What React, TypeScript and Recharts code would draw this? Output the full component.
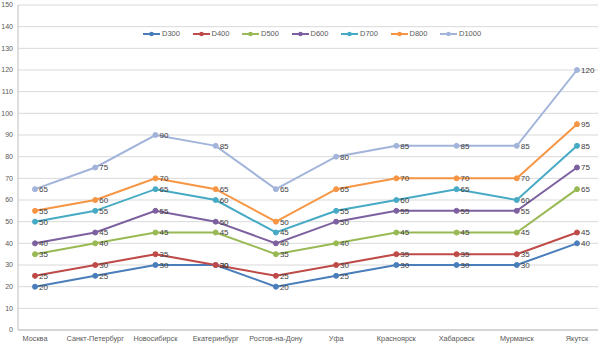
import React from "react";
import { LineChart, Line, XAxis, YAxis, CartesianGrid, Legend, LabelList } from "recharts";

const cities = ["Москва", "Санкт-Петербург", "Новосибирск", "Екатеринбург", "Ростов-на-Дону", "Уфа", "Красноярск", "Хабаровск", "Мурманск", "Якутск"];
const d300 = [20, 25, 30, 30, 20, 25, 30, 30, 30, 40];
const d400 = [25, 30, 35, 30, 25, 30, 35, 35, 35, 45];
const d500 = [35, 40, 45, 45, 35, 40, 45, 45, 45, 65];
const d600 = [40, 45, 55, 50, 40, 50, 55, 55, 55, 75];
const d700 = [50, 55, 65, 60, 45, 55, 60, 65, 60, 85];
const d800 = [55, 60, 70, 65, 50, 65, 70, 70, 70, 95];
const d1000 = [65, 75, 90, 85, 65, 80, 85, 85, 85, 120];
const yTicks = [0, 10, 20, 30, 40, 50, 60, 70, 80, 90, 100, 110, 120, 130, 140, 150];

const seriesDefs = [
  { key: "D300", values: d300, color: "#4A7EBB" },
  { key: "D400", values: d400, color: "#BE4B48" },
  { key: "D500", values: d500, color: "#98B954" },
  { key: "D600", values: d600, color: "#7D60A0" },
  { key: "D700", values: d700, color: "#46AAC5" },
  { key: "D800", values: d800, color: "#F69544" },
  { key: "D1000", values: d1000, color: "#A2B4DA" },
];

const data = cities.map((c, i) => {
  const row: Record<string, string | number> = { city: c };
  seriesDefs.forEach((s) => {
    row[s.key] = s.values[i];
  });
  return row;
});

const FONT = "'Liberation Sans', Arial, sans-serif";

const LegendContent = () => (
  <div style={{ display: "flex", fontFamily: FONT, fontSize: 7.5, color: "#595959" }}>
    {seriesDefs.map((s) => (
      <div key={s.key} style={{ width: 49.5, display: "flex", alignItems: "center" }}>
        <svg width={17} height={6} style={{ marginRight: 2 }}>
          <line x1={0} y1={3} x2={17} y2={3} stroke={s.color} strokeWidth={2} />
          <circle cx={8.5} cy={3} r={2.3} fill={s.color} />
        </svg>
        <span>{s.key}</span>
      </div>
    ))}
  </div>
);

export default function App() {
  return (
    <div style={{ position: "fixed", left: 0, top: 0, width: 600, height: 346, background: "#fff" }}>
      <LineChart width={600} height={346} data={data} margin={{ top: 5, right: 2, bottom: 0, left: 0 }}>
        <CartesianGrid vertical={false} stroke="#D9D9D9" strokeWidth={1} />
        <XAxis
          dataKey="city"
          height={16}
          padding={{ left: 17, right: 21 }}
          tickLine={false}
          tickSize={0}
          axisLine={{ stroke: "#BFBFBF" }}
          interval={0}
          tick={{ fontSize: 7.3, fill: "#595959", fontFamily: FONT }}
          tickMargin={6}
        />
        <YAxis
          width={18}
          domain={[0, 150]}
          ticks={yTicks}
          interval={0}
          tickLine={false}
          tickSize={0}
          axisLine={{ stroke: "#BFBFBF" }}
          tick={{ fontSize: 7, fill: "#595959", fontFamily: FONT }}
          tickMargin={5}
        />
        <Legend
          layout="horizontal"
          verticalAlign="middle"
          align="center"
          wrapperStyle={{ position: "absolute", top: 29, left: 143, width: 360, height: 12 }}
          content={<LegendContent />}
        />
        {seriesDefs.map((s) => (
          <Line
            key={s.key}
            dataKey={s.key}
            stroke={s.color}
            strokeWidth={2}
            isAnimationActive={false}
            dot={{ r: 2.5, fill: s.color, stroke: s.color, strokeWidth: 1 }}
          >
            <LabelList dataKey={s.key} position="right" offset={4} style={{ fontSize: 8, fill: "#404040", fontFamily: FONT }} />
          </Line>
        ))}
      </LineChart>
    </div>
  );
}
